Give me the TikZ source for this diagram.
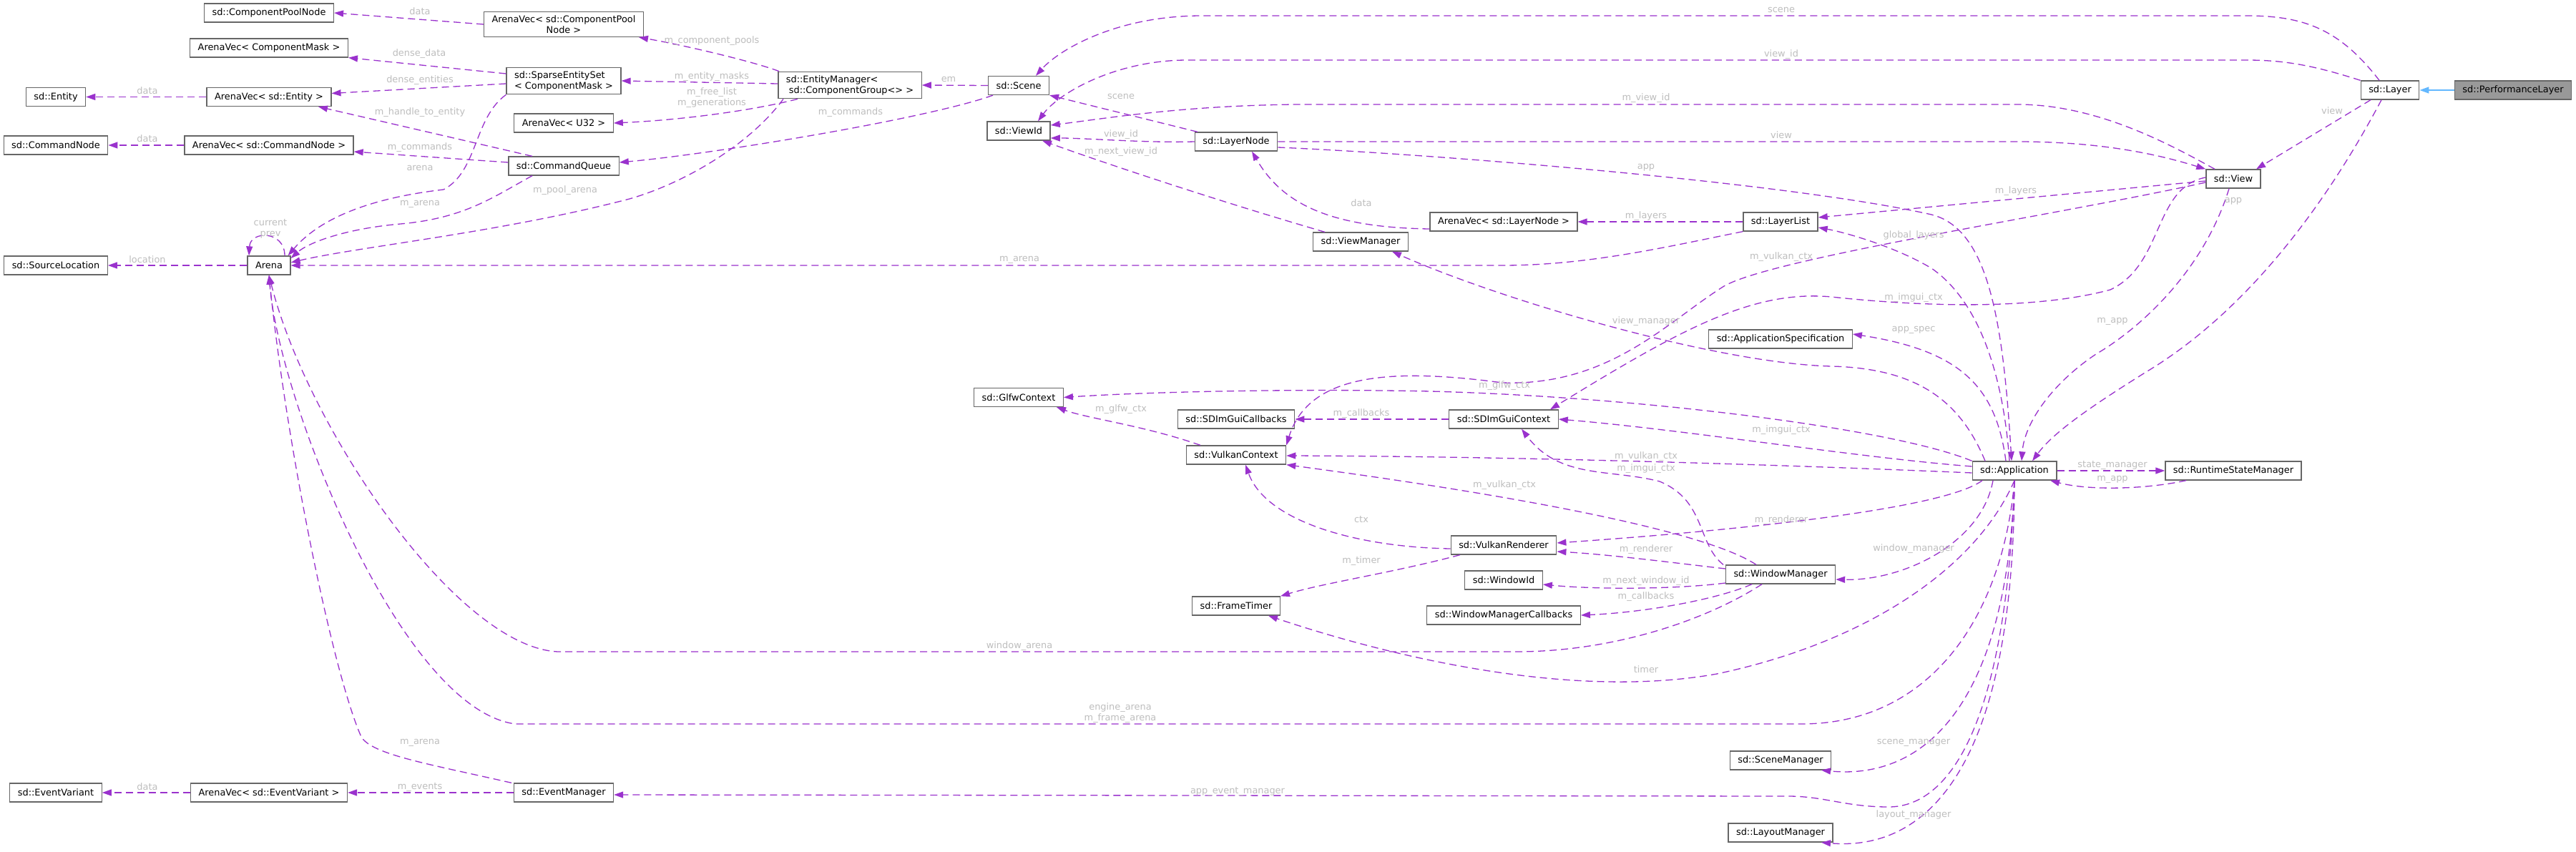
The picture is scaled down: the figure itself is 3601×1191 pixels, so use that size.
\documentclass[tikz,border=0pt]{standalone}
\usepackage{fontspec}
\setmainfont{DejaVu Sans}
\usetikzlibrary{arrows.meta}
\definecolor{edgepurple}{HTML}{9A32CD}
\definecolor{boxline}{HTML}{666666}
\definecolor{focusfill}{HTML}{999999}
\definecolor{labelgrey}{HTML}{BEBEBE}
\definecolor{inheritblue}{HTML}{63B8FF}

\begin{document}
\begin{tikzpicture}[
    x=1pt, y=-1pt,
    every node/.style={font=\fontsize{12.9pt}{15pt}\selectfont},
    klass/.style={draw=boxline, line width=1.3pt, fill=white, inner xsep=11pt, inner ysep=5pt, minimum height=26pt},
    focus/.style={klass, fill=focusfill},
    member/.style={draw=edgepurple, line width=1.3pt, dash pattern=on 10pt off 6pt, -{Triangle[length=13pt,width=9pt]}},
    derive/.style={draw=inheritblue, line width=1.6pt, -{Triangle[length=13pt,width=9pt]}},
    elabel/.style={text=labelgrey, inner sep=0pt, align=center}
]
\fill[white] (0,0) rectangle (3601,1191);
\useasboundingbox (0,0) rectangle (3601,1191);

% classes, column by column
\node[klass] (entity) at (78,135.5) {sd::Entity};
\node[klass] (cmdnode) at (78,203) {sd::CommandNode};
\node[klass] (srcloc) at (78,371) {sd::SourceLocation};
\node[klass] (evvar) at (78,1108) {sd::EventVariant};

\node[klass] (cpn) at (376,18) {sd::ComponentPoolNode};
\node[klass] (avmask) at (376,67) {ArenaVec< ComponentMask >};
\node[klass] (aventity) at (376,135.5) {ArenaVec< sd::Entity >};
\node[klass] (avcmd) at (376,203) {ArenaVec< sd::CommandNode >};
\node[klass] (arena) at (376,371) {Arena};
\node[klass] (avev) at (376,1108) {ArenaVec< sd::EventVariant >};

\node[klass, align=center] (avcpn) at (788,34) {ArenaVec< sd::ComponentPool\\Node >};
\node[klass, align=left] (ses) at (788,113) {sd::SparseEntitySet\\< ComponentMask >};
\node[klass] (avu32) at (788,172) {ArenaVec< U32 >};
\node[klass] (cmdq) at (788,232) {sd::CommandQueue};
\node[klass] (evmgr) at (788,1108) {sd::EventManager};

\node[klass, align=left] (em) at (1188,119) {sd::EntityManager<\\\hspace{4pt}sd::ComponentGroup<> >};
\node[klass] (scene) at (1424,119.5) {sd::Scene};
\node[klass] (viewid) at (1424,183) {sd::ViewId};
\node[klass] (glfw) at (1424,555.5) {sd::GlfwContext};

\node[klass] (layernode) at (1728,198) {sd::LayerNode};
\node[klass] (imguicb) at (1728,586) {sd::SDImGuiCallbacks};
\node[klass] (vkctx) at (1728,636) {sd::VulkanContext};
\node[klass] (frametimer) at (1728,847) {sd::FrameTimer};

\node[klass] (viewmgr) at (1902,338) {sd::ViewManager};
\node[klass] (avlayer) at (2102,310) {ArenaVec< sd::LayerNode >};
\node[klass] (imguictx) at (2102,586) {sd::SDImGuiContext};
\node[klass] (renderer) at (2102,762) {sd::VulkanRenderer};
\node[klass] (windowid) at (2102,811) {sd::WindowId};
\node[klass] (wmcb) at (2102,860) {sd::WindowManagerCallbacks};

\node[klass] (layerlist) at (2489,310) {sd::LayerList};
\node[klass] (appspec) at (2489,474) {sd::ApplicationSpecification};
\node[klass] (wm) at (2489,803) {sd::WindowManager};
\node[klass] (scenemgr) at (2489,1063) {sd::SceneManager};
\node[klass] (layoutmgr) at (2489,1164) {sd::LayoutManager};

\node[klass] (app) at (2816,658) {sd::Application};
\node[klass] (view) at (3122,250) {sd::View};
\node[klass] (rsm) at (3122,658) {sd::RuntimeStateManager};
\node[klass] (layer) at (3341,126) {sd::Layer};
\node[focus] (perf) at (3513,126) {sd::PerformanceLayer};

% inheritance
\draw[derive] (perf.west) -- (layer.east);

% members, left part
\draw[member] (avcpn.west) -- (cpn.east);
\draw[member] ([yshift=10pt]ses.west) -- (avmask.south east);
\draw[member] ([yshift=-4pt]ses.west) -- ([yshift=5pt]aventity.east);
\draw[member] (aventity.west) -- (entity.east);
\draw[member] ([xshift=-44pt]cmdq.north) -- ([xshift=69pt]aventity.south);
\draw[member] (avcmd.west) -- (cmdnode.east);
\draw[member] ([yshift=5pt]cmdq.west) -- ([yshift=-9pt]avcmd.east);
\draw[member] (ses.south west) .. controls (662,165) and (668,240) .. (620,265) .. controls (560,272) and (460,290) .. ([xshift=-4pt]arena.north east);
\draw[member] ([xshift=-44pt]cmdq.south) .. controls (690,275) and (650,305) .. (560,313) .. controls (480,320) and (430,340) .. ([yshift=10pt]arena.east);
\draw[member] ([xshift=-93pt]em.south) .. controls (1050,200) and (960,255) .. (880,278) .. controls (700,325) and (500,345) .. ([yshift=4pt]arena.east);
\draw[member] (layerlist.south west) .. controls (2330,345) and (2220,371) .. (2100,371) -- (arena.east);
\draw[member] ([xshift=22pt]arena.north) .. controls (398,322) and (350,322) .. ([xshift=-28pt]arena.north);
\draw[member] (arena.west) -- (srcloc.east);
\draw[member] ([xshift=-73pt]evmgr.north) .. controls (600,1068) and (520,1055) .. (505,1030) .. controls (465,940) and (400,620) .. (arena.south);
\draw[member] ([xshift=-26pt]wm.south) .. controls (2380,870) and (2250,911) .. (2120,911) -- (780,911) .. controls (640,905) and (430,600) .. (arena.south);
\draw[member] (app.south) .. controls (2800,860) and (2700,1012) .. (2518,1012) -- (720,1012) .. controls (560,990) and (390,560) .. (arena.south);
\draw[member] (avev.west) -- (evvar.east);
\draw[member] (evmgr.west) -- (avev.east);

% entity manager and scene
\draw[member] ([xshift=-99pt]em.north) .. controls (1050,85) and (950,62) .. ([xshift=105pt]avcpn.south);
\draw[member] ([yshift=2pt]em.west) -- (ses.east);
\draw[member] ([xshift=-73pt]em.south) .. controls (1050,155) and (950,168) .. (avu32.east);
\draw[member] (scene.west) -- (em.east);
\draw[member] ([xshift=-36pt]scene.south) .. controls (1300,165) and (1000,215) .. ([yshift=5pt]cmdq.east);

% layers and views
\draw[member] ([xshift=-15pt]layer.north) .. controls (3270,40) and (3220,22) .. (3140,22) -- (1680,22) .. controls (1560,22) and (1480,70) .. ([xshift=24pt]scene.north);
\draw[member] (layer.north west) .. controls (3230,90) and (3190,84) .. (3140,84) -- (1660,84) .. controls (1560,84) and (1480,130) .. ([xshift=27pt]viewid.north);
\draw[member] ([xshift=-26pt]view.north) .. controls (3030,200) and (2930,146) .. (2820,146) -- (1810,146) .. controls (1650,148) and (1550,165) .. ([yshift=8pt]viewid.east);
\draw[member] (layernode.east) -- (2820,198) .. controls (2950,198) and (3030,220) .. (view.north west);
\draw[member] ([xshift=-54pt]layernode.north) -- (scene.south east);
\draw[member] (layernode.west) .. controls (1600,200) and (1520,193) .. ([yshift=-10pt]viewid.east);
\draw[member] ([xshift=-50pt]viewmgr.north) .. controls (1700,280) and (1550,230) .. ([xshift=33pt]viewid.south);
\draw[member] ([yshift=-10pt]avlayer.west) .. controls (1850,318) and (1790,280) .. ([xshift=22pt]layernode.south);
\draw[member] (layerlist.west) -- (avlayer.east);
\draw[member] ([xshift=-27pt]layer.south) -- ([xshift=32pt]view.north);
\draw[member] ([yshift=-3pt]view.west) -- ([yshift=6pt]layerlist.east);
\draw[member] ([yshift=-5pt]view.west) .. controls (2880,300) and (2480,360) .. (2410,400) .. controls (2330,450) and (2250,540) .. (2100,535) .. controls (1950,515) and (1830,520) .. (vkctx.north east);
\draw[member] ([yshift=2pt]view.west) .. controls (3010,262) and (3025,370) .. (2950,405) .. controls (2850,432) and (2700,430) .. (2560,415) .. controls (2450,405) and (2350,460) .. ([xshift=65pt]imguictx.north);

% into the application
\draw[member] ([yshift=-8pt]layernode.east) .. controls (2000,215) and (2500,255) .. (2700,300) .. controls (2780,320) and (2800,450) .. ([xshift=-4pt]app.north);
\draw[member] ([xshift=-6pt]view.south) .. controls (3080,380) and (2990,460) .. (2930,495) .. controls (2870,535) and (2830,590) .. ([xshift=10pt]app.north);
\draw[member] ([xshift=-12pt]layer.south) .. controls (3260,270) and (3150,430) .. (3000,520) .. controls (2920,570) and (2870,605) .. ([xshift=25pt]app.north);
\draw[member] ([xshift=-66pt]rsm.south) .. controls (3000,684) and (2920,686) .. ([xshift=50pt]app.south);

% out of the application
\draw[member] (app.east) -- (rsm.west);
\draw[member] ([xshift=-7pt]app.north) .. controls (2800,520) and (2765,420) .. (2700,375) .. controls (2650,345) and (2580,325) .. ([yshift=-8pt]layerlist.east);
\draw[member] ([xshift=-41pt]app.north) .. controls (2740,560) and (2680,515) .. (2560,512) .. controls (2400,508) and (2100,420) .. ([xshift=44pt]viewmgr.south);
\draw[member] ([xshift=-12pt]app.north) .. controls (2790,540) and (2740,490) .. ([yshift=7pt]appspec.east);
\draw[member] (app.north west) .. controls (2650,600) and (2300,555) .. (2000,547) .. controls (1800,543) and (1600,548) .. (glfw.east);
\draw[member] ([yshift=6pt]app.west) .. controls (2600,640) and (2350,600) .. (imguictx.east);
\draw[member] ([yshift=-3pt]app.west) .. controls (2450,648) and (2100,638) .. ([yshift=-1pt]vkctx.east);
\draw[member] ([xshift=-45pt]app.south) .. controls (2720,710) and (2450,740) .. ([yshift=3pt]renderer.east);
\draw[member] ([xshift=-30pt]app.south) .. controls (2770,760) and (2660,812) .. ([yshift=-7pt]wm.east);
\draw[member] (app.south) .. controls (2760,800) and (2600,900) .. (2400,942) .. controls (2200,978) and (1950,920) .. ([xshift=45pt]frametimer.south);
\draw[member] (app.south) .. controls (2805,1000) and (2680,1090) .. ([xshift=57pt]scenemgr.south);
\draw[member] (app.south) .. controls (2805,1000) and (2730,1128) .. (2640,1128) .. controls (2580,1128) and (2550,1113) .. (2500,1113) -- ([yshift=-3pt]evmgr.east);
\draw[member] (app.south) .. controls (2815,1080) and (2690,1190) .. ([xshift=57pt]layoutmgr.south);

% window manager, renderer, contexts
\draw[member] ([yshift=8pt]wm.west) .. controls (2350,788) and (2250,775) .. ([yshift=-9pt]renderer.east);
\draw[member] ([yshift=-12pt]wm.west) .. controls (2340,824) and (2230,824) .. ([yshift=-6pt]windowid.east);
\draw[member] ([xshift=-40pt]wm.south) .. controls (2400,838) and (2300,856) .. (wmcb.east);
\draw[member] ([xshift=-80pt]wm.north) .. controls (2372,760) and (2385,700) .. (2320,673) .. controls (2250,655) and (2180,670) .. ([xshift=25pt]imguictx.south);
\draw[member] ([xshift=-34pt]wm.north) .. controls (2380,740) and (2100,690) .. (vkctx.south east);
\draw[member] (imguictx.west) -- (imguicb.east);
\draw[member] ([xshift=-50pt]vkctx.north) .. controls (1600,595) and (1520,585) .. ([xshift=53pt]glfw.south);
\draw[member] ([yshift=-5pt]renderer.west) .. controls (1900,765) and (1770,730) .. ([xshift=13pt]vkctx.south);
\draw[member] ([xshift=-61pt]renderer.south) .. controls (1950,800) and (1850,815) .. (frametimer.north east);

% edge labels
\node[elabel] (t-cpn) at (587,16) {data};
\node[elabel] (t-dense) at (586,75) {dense\_data};
\node[elabel] (t-dent) at (587,112) {dense\_entities};
\node[elabel] (t-edata) at (206,127) {data};
\node[elabel] (t-handle) at (587,157) {m\_handle\_to\_entity};
\node[elabel] (t-cdata) at (206,194) {data};
\node[elabel] (t-cmds) at (587,206) {m\_commands};
\node[elabel] (t-arena) at (587,235) {arena};
\node[elabel] (t-qarena) at (587,285) {m\_arena};
\node[elabel] (t-pool) at (790,266) {m\_pool\_arena};
\node[elabel] (t-cur) at (378,320) {current\\prev};
\node[elabel] (t-loc) at (206,363) {location};
\node[elabel] (t-pools) at (995,57) {m\_component\_pools};
\node[elabel] (t-masks) at (995,107) {m\_entity\_masks};
\node[elabel] (t-free) at (995,137) {m\_free\_list\\m\_generations};
\node[elabel] (t-em) at (1326,111) {em};
\node[elabel] (t-scmds) at (1189,157) {m\_commands};
\node[elabel] (t-nscene) at (1567,135) {scene};
\node[elabel] (t-nvid) at (1567,188) {view\_id};
\node[elabel] (t-nextvid) at (1567,212) {m\_next\_view\_id};
\node[elabel] (t-larena) at (1425,363) {m\_arena};
\node[elabel] (t-scene) at (2490,14) {scene};
\node[elabel] (t-vid) at (2490,76) {view\_id};
\node[elabel] (t-mvid) at (2301,137) {m\_view\_id};
\node[elabel] (t-nview) at (2490,189) {view};
\node[elabel] (t-napp) at (2301,234) {app};
\node[elabel] (t-ldata) at (1903,284) {data};
\node[elabel] (t-llayers) at (2301,302) {m\_layers};
\node[elabel] (t-global) at (2675,329) {global\_layers};
\node[elabel] (t-vvk) at (2490,359) {m\_vulkan\_ctx};
\node[elabel] (t-view) at (3260,155) {view};
\node[elabel] (t-vlayers) at (2818,267) {m\_layers};
\node[elabel] (t-lapp) at (3122,281) {app};
\node[elabel] (t-vkglfw) at (1567,572) {m\_glfw\_ctx};
\node[elabel] (t-vmgr) at (2301,449) {view\_manager};
\node[elabel] (t-vimgui) at (2675,416) {m\_imgui\_ctx};
\node[elabel] (t-spec) at (2675,461) {app\_spec};
\node[elabel] (t-aglfw) at (2103,539) {m\_glfw\_ctx};
\node[elabel] (t-cb) at (1903,578) {m\_callbacks};
\node[elabel] (t-aimgui) at (2490,601) {m\_imgui\_ctx};
\node[elabel] (t-avk) at (2301,638) {m\_vulkan\_ctx};
\node[elabel] (t-wimgui) at (2301,655) {m\_imgui\_ctx};
\node[elabel] (t-wvk) at (2103,678) {m\_vulkan\_ctx};
\node[elabel] (t-ctx) at (1903,726) {ctx};
\node[elabel] (t-arend) at (2490,727) {m\_renderer};
\node[elabel] (t-wrend) at (2301,768) {m\_renderer};
\node[elabel] (t-timer) at (1903,784) {m\_timer};
\node[elabel] (t-wmgr) at (2675,767) {window\_manager};
\node[elabel] (t-vapp) at (2953,449) {m\_app};
\node[elabel] (t-state) at (2953,650) {state\_manager};
\node[elabel] (t-rapp) at (2953,670) {m\_app};
\node[elabel] (t-earena) at (587,1038) {m\_arena};
\node[elabel] (t-evdata) at (206,1100) {data};
\node[elabel] (t-events) at (587,1100) {m\_events};
\node[elabel] (t-warena) at (1425,903) {window\_arena};
\node[elabel] (t-engine) at (1566,997) {engine\_arena\\m\_frame\_arena};
\node[elabel] (t-appev) at (1730,1106) {app\_event\_manager};
\node[elabel] (t-nextwid) at (2301,812) {m\_next\_window\_id};
\node[elabel] (t-wcb) at (2301,834) {m\_callbacks};
\node[elabel] (t-atimer) at (2301,936) {timer};
\node[elabel] (t-smgr) at (2675,1038) {scene\_manager};
\node[elabel] (t-lmgr) at (2675,1139) {layout\_manager};
\end{tikzpicture}
\end{document}
